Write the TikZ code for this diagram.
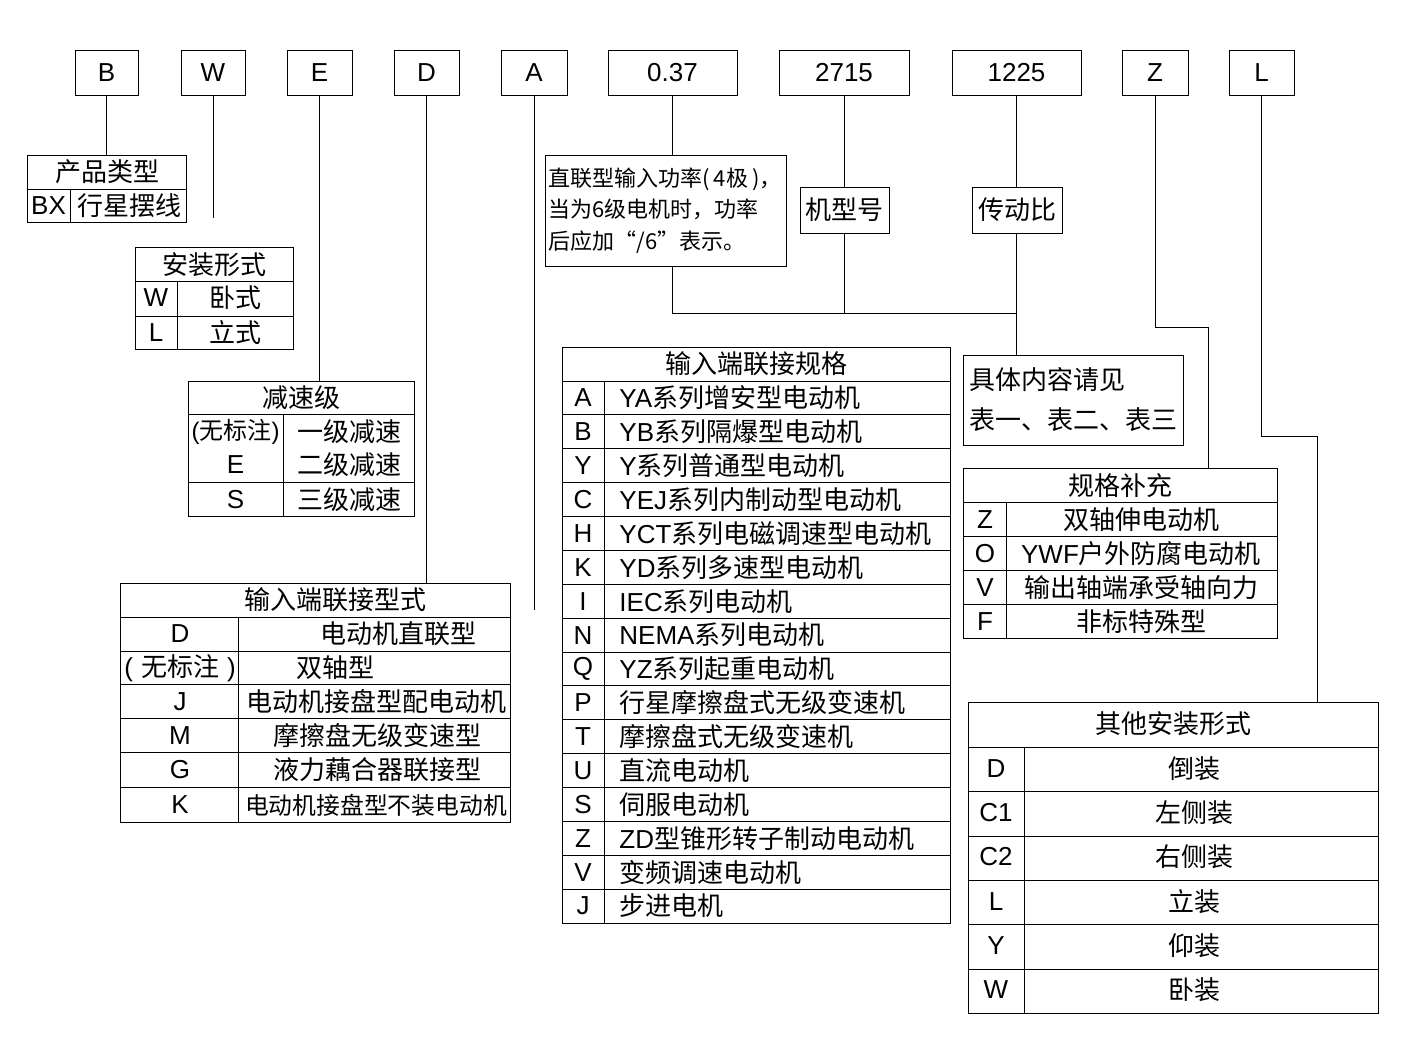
\documentclass[tikz,border=0pt]{standalone}
\usepackage{fontspec}
\setmainfont{Liberation Sans}
\newfontfamily\cjk{Noto Sans CJK SC}
\newcommand\nomark[1]{(\hspace{#1}{\cjk 无标注}\hspace{#1})}
\tikzset{codebox/.style={draw,minimum height=45,inner sep=0pt,font=\fontsize{26}{30}\selectfont},
  tabframe/.style={draw,inner sep=0pt},
  cell/.style={inner sep=0pt,font=\fontsize{26}{30}\selectfont}}

\begin{document}
\begin{tikzpicture}[x=1pt,y=-1pt,line width=.9pt]
  \path[use as bounding box] (0,0) rectangle (1403,1057);
  % code boxes
  \foreach \nm/\x/\w/\lbl in {cB/106.5/63/B,cW/213/64/W,cE/319.5/65/E,cD/426.5/65/D,cA/534/66/A,cP/672.5/129/0.37,cM/844/130/2715,cI/1016.5/129/1225,cZ/1155/66/Z,cL/1261.5/65/L}{
    \node[codebox,minimum width=\w] (\nm) at (\x,72.5) {\lbl};
  }
  % product type
  \node[tabframe,minimum width=159,minimum height=67] (tCP) at (106.5,188.5) {};
  \draw (27,189) -- (186,189) (70,189) -- (70,222);
  \node[cell] (tCPh) at (107,172) {\cjk 产品类型};
  \node[cell] (tCP1) at (48.5,206) {BX};
  \node[cell] (tCP2) at (129,206) {\cjk 行星摆线};
  % mounting
  \node[tabframe,minimum width=158,minimum height=102] (tAZ) at (214,298) {};
  \draw (135,281) -- (293,281) (135,316) -- (293,316) (177,281) -- (177,349);
  \node[cell] (tAZh) at (214,265) {\cjk 安装形式};
  \foreach \cd/\tx/\y [count=\i] in {W/卧式/298,L/立式/333}{
    \node[cell] (tAZl\i) at (156,\y) {\cd};
    \node[cell] (tAZt\i) at (235,\y) {\cjk\tx};
  }
  % stages
  \node[tabframe,minimum width=226,minimum height=135] (tJS) at (301,448.5) {};
  \draw (188,414) -- (414,414) (188,482) -- (414,482) (283,414) -- (283,516);
  \node[cell] (tJSh) at (301,398) {\cjk 减速级};
  \foreach \cd/\tx/\y [count=\i] in {{\fontsize{24}{30}\selectfont\nomark{0pt}}/一级减速/432,E/二级减速/465,S/三级减速/500}{
    \node[cell] (tJSl\i) at (235.5,\y) {\cd};
    \node[cell] (tJSt\i) at (349,\y) {\cjk\tx};
  }
  % input connection type
  \node[tabframe,minimum width=390,minimum height=239] (tSR) at (315,702.5) {};
  \draw (238,617) -- (238,822);
  \foreach \y in {617,651,684,718,752,787} \draw (120,\y) -- (510,\y);
  \node[cell] (tSRh) at (335,600) {\cjk 输入端联接型式};
  \foreach \cd/\tx/\x/\y [count=\i] in {D/电动机直联型/398/634,\nomark{8pt}/双轴型/335/668,J/电动机接盘型配电动机/376/702,M/摩擦盘无级变速型/377/736,G/液力藕合器联接型/377/770,K/{\fontsize{23.8}{30}\selectfont 电动机接盘型不装电动机}/376/805}{
    \node[cell] (tSRl\i) at (180,\y) {\cd};
    \node[cell] (tSRt\i) at (\x,\y) {\cjk\tx};
  }
  % power note, model, ratio
  \node[tabframe,minimum width=241,minimum height=111] (note) at (665.5,210.5) {};
  \node[inner sep=0pt,anchor=west,align=left,font=\fontsize{22}{31.5}\selectfont\cjk] (noteT) at (548,210.5) {直联型输入功率(\hspace{4pt}4极\hspace{4pt})，\\当为6级电机时，功率\\后应加“/6”表示。};
  \node[codebox,minimum width=89,minimum height=46,font=\fontsize{26}{30}\selectfont\cjk] (type) at (844.5,210) {机型号};
  \node[codebox,minimum width=90,minimum height=46,font=\fontsize{26}{30}\selectfont\cjk] (ratio) at (1017,210) {传动比};
  \node[draw,minimum width=220,minimum height=90,inner sep=0pt,align=left,font=\fontsize{26}{40}\selectfont\cjk] (detail) at (1073,400) {具体内容请见\\表一、表二、表三};
  % input connection spec
  \node[tabframe,minimum width=388,minimum height=576] (tGG) at (756,635) {};
  \draw (562,381) -- (950,381) (604,381) -- (604,923);
  \foreach \i in {1,...,15} \draw (562,{381+\i*33.875}) -- (950,{381+\i*33.875});
  \node[cell] (tGGh) at (756,364) {\cjk 输入端联接规格};
  \foreach \cd/\ea/\eb [count=\i] in {A/YA/系列增安型电动机,B/YB/系列隔爆型电动机,Y/Y/系列普通型电动机,C/YEJ/系列内制动型电动机,H/YCT/系列电磁调速型电动机,K/YD/系列多速型电动机,I/IEC/系列电动机,N/NEMA/系列电动机,Q/YZ/系列起重电动机,P//行星摩擦盘式无级变速机,T//摩擦盘式无级变速机,U//直流电动机,S//伺服电动机,Z/ZD/型锥形转子制动电动机,V//变频调速电动机,J//步进电机}{
    \node[cell] (tGGl\i) at (583,{364.06+\i*33.875}) {\cd};
    \node[cell,anchor=west] (tGGt\i) at (619,{364.06+\i*33.875}) {\ea\cjk\eb};
  }
  % spec supplement
  \node[tabframe,minimum width=314,minimum height=170] (tGB) at (1120,553) {};
  \draw (1006,502) -- (1006,638);
  \foreach \y in {502,536,570,604} \draw (963,\y) -- (1277,\y);
  \node[cell] (tGBh) at (1120,486) {\cjk 规格补充};
  \foreach \cd/\ea/\eb/\y [count=\i] in {Z//双轴伸电动机/520,O/YWF/户外防腐电动机/554,V//输出轴端承受轴向力/588,F//非标特殊型/622}{
    \node[cell] (tGBl\i) at (985,\y) {\cd};
    \node[cell] (tGBt\i) at (1141,\y) {\ea\cjk\eb};
  }
  % other mountings
  \node[tabframe,minimum width=410,minimum height=311] (tQT) at (1173,857.5) {};
  \draw (1024,747) -- (1024,1013);
  \foreach \y in {747,791,836,880,924,969} \draw (968,\y) -- (1378,\y);
  \node[cell] (tQTh) at (1173,724) {\cjk 其他安装形式};
  \foreach \cd/\tx/\y [count=\i] in {D/倒装/769,C1/左侧装/813,C2/右侧装/857,L/立装/902,Y/仰装/946,W/卧装/990}{
    \node[cell] (tQTl\i) at (996,\y) {\cd};
    \node[cell] (tQTt\i) at (1194,\y) {\cjk\tx};
  }
  % connectors
  \coordinate (wEnd) at (213,218);
  \coordinate (aEnd) at (534,610);
  \coordinate (bus) at (845,313);
  \coordinate (zK) at (1208,327);
  \coordinate (lK) at (1317,436);
  \draw (cB) -- (cB |- tCP.north);
  \draw (cW) -- (wEnd);
  \draw (cE) -- (cE |- tJS.north);
  \draw (cD) -- (cD |- tSR.north);
  \draw (cA) -- (aEnd);
  \draw (cP) -- (cP |- note.north);
  \draw (cP |- note.south) -- (cP |- bus) -- (cI |- bus);
  \draw (cM) -- (cM |- type.north);
  \draw (type) -- (type |- bus);
  \draw (cI) -- (cI |- ratio.north);
  \draw (cI |- ratio.south) -- (cI |- detail.north);
  \draw (cZ) |- (zK) -- (zK |- tGB.north);
  \draw (cL) |- (lK) -- (lK |- tQT.north);
\end{tikzpicture}
\end{document}
